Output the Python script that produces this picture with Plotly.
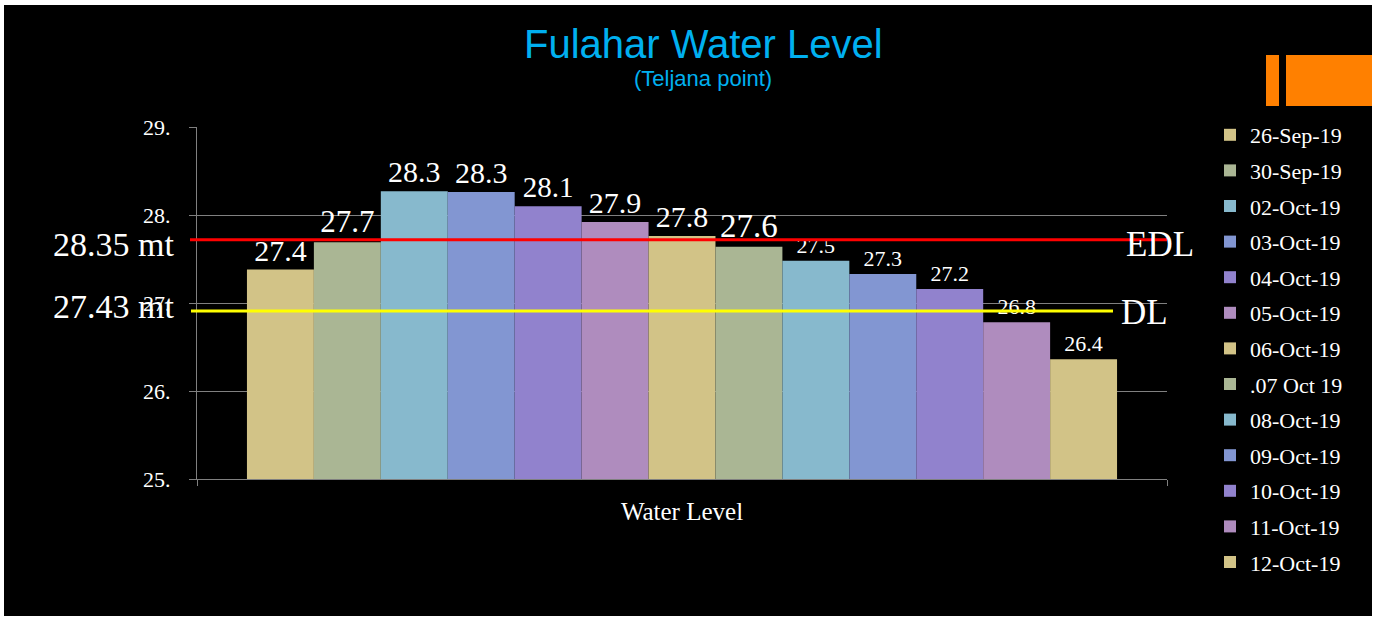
import plotly.graph_objects as go

# ---------------- data ----------------
category = ["Water Level"]
dates = ["26-Sep-19", "30-Sep-19", "02-Oct-19", "03-Oct-19", "04-Oct-19", "05-Oct-19",
         "06-Oct-19", ".07 Oct 19", "08-Oct-19", "09-Oct-19", "10-Oct-19", "11-Oct-19", "12-Oct-19"]
levels = [27.38, 27.69, 28.27, 28.26, 28.10, 27.92, 27.76, 27.64, 27.48, 27.33, 27.16, 26.78, 26.36]
y_tickvals = [25, 26, 27, 28, 29]
y_ticktext = ["25.", "26.", "27.", "28.", "29."]
edl_level = 27.72      # drawn position of the EDL line
dl_level = 26.91       # drawn position of the DL line
edl_label = "28.35 mt"
dl_label = "27.43 mt"

# ---------------- styles ----------------
palette = ["#D2C387", "#AAB694", "#87B9CD", "#8296D2", "#9182CD", "#AF8CBE"]
label_sizes = [30, 31, 30, 30, 29, 30, 30, 33, 22, 22, 22, 22, 22]
SERIF = "Liberation Serif"
SANS = "Liberation Sans"

# plot area in pixels: x 197..1167, y 127..479
W, H = 1382, 618
L, R, T, B = 197, 1167, 127, 479
def px(x):
    return (x - L) / (R - L)
def py(y):
    return (B - y) / (B - T)

fig = go.Figure()
for i, (d, v) in enumerate(zip(dates, levels)):
    fig.add_trace(go.Bar(
        x=category, y=[v], name=d,
        marker=dict(color=palette[i % len(palette)], line=dict(width=0)),
        texttemplate="%{y:.1f}", textposition="outside",
        textfont=dict(family=SERIF, size=label_sizes[i], color="white"),
        constraintext="none", cliponaxis=False,
        legendgroup=d,
    ))

shapes = [
    # black background panel
    dict(type="rect", xref="paper", yref="paper", x0=px(4), x1=px(1372), y0=py(616), y1=py(5),
         fillcolor="black", line=dict(width=0), layer="below"),
    # orange blocks
    dict(type="rect", xref="paper", yref="paper", x0=px(1266), x1=px(1279), y0=py(106), y1=py(55),
         fillcolor="#FF8000", line=dict(width=0)),
    dict(type="rect", xref="paper", yref="paper", x0=px(1286), x1=px(1372), y0=py(106), y1=py(55),
         fillcolor="#FF8000", line=dict(width=0)),
    # reference lines
    dict(type="line", xref="paper", yref="y", x0=px(190), x1=px(1167), y0=edl_level, y1=edl_level,
         line=dict(color="#FF0000", width=3), layer="above"),
    dict(type="line", xref="paper", yref="y", x0=px(191), x1=px(1113), y0=dl_level, y1=dl_level,
         line=dict(color="#FFFF00", width=3), layer="above"),
]

annotations = [
    dict(text="Fulahar Water Level", xref="paper", yref="paper", x=px(703), y=py(44),
         showarrow=False, xanchor="center", yanchor="middle",
         font=dict(family=SANS, size=40, color="#00B0F0")),
    dict(text="(Teljana point)", xref="paper", yref="paper", x=px(703), y=py(79),
         showarrow=False, xanchor="center", yanchor="middle",
         font=dict(family=SANS, size=22, color="#00B0F0")),
    dict(text=edl_label, xref="paper", yref="y", x=px(176), y=edl_level, yshift=-5,
         showarrow=False, xanchor="right", yanchor="middle",
         font=dict(family=SERIF, size=34, color="white")),
    dict(text=dl_label, xref="paper", yref="y", x=px(176), y=dl_level, yshift=4,
         showarrow=False, xanchor="right", yanchor="middle",
         font=dict(family=SERIF, size=34, color="white")),
    dict(text="EDL", xref="paper", yref="y", x=px(1124), y=edl_level, yshift=-5,
         showarrow=False, xanchor="left", yanchor="middle",
         font=dict(family=SERIF, size=35, color="white")),
    dict(text="DL", xref="paper", yref="y", x=px(1119), y=dl_level, yshift=-2,
         showarrow=False, xanchor="left", yanchor="middle",
         font=dict(family=SERIF, size=35, color="white")),
]

fig.update_layout(
    width=W, height=H,
    margin=dict(l=L, r=W - R, t=T, b=H - B, pad=0),
    paper_bgcolor="white", plot_bgcolor="rgba(0,0,0,0)",
    barmode="group", bargap=0.103, bargroupgap=0,
    shapes=shapes, annotations=annotations,
    showlegend=True,
    legend=dict(x=px(1210), xanchor="left", y=py(114), yanchor="top",
                maxheight=590,
                bgcolor="rgba(0,0,0,0)", font=dict(family=SERIF, size=22, color="white"),
                tracegroupgap=4, traceorder="grouped", itemwidth=30),
    font=dict(family=SERIF, color="white"),
)

fig.update_xaxes(
    showline=True, linecolor="#808080", linewidth=1,
    ticks="outside", tickson="boundaries", ticklen=6, tickcolor="#808080",
    tickfont=dict(family=SERIF, size=25, color="white"),
    ticklabelstandoff=10, showgrid=False, zeroline=False,
)
fig.update_yaxes(
    range=[25, 29], tickvals=y_tickvals, ticktext=y_ticktext,
    showline=True, linecolor="#808080", linewidth=1,
    ticks="outside", ticklen=7, tickcolor="#808080",
    showgrid=True, gridcolor="#808080", gridwidth=1, zeroline=False,
    tickfont=dict(family=SERIF, size=22, color="white"),
    ticklabelstandoff=14,
)

fig.write_html("out.html", config={"displayModeBar": False},
               post_script="document.body.style.margin='0';")
